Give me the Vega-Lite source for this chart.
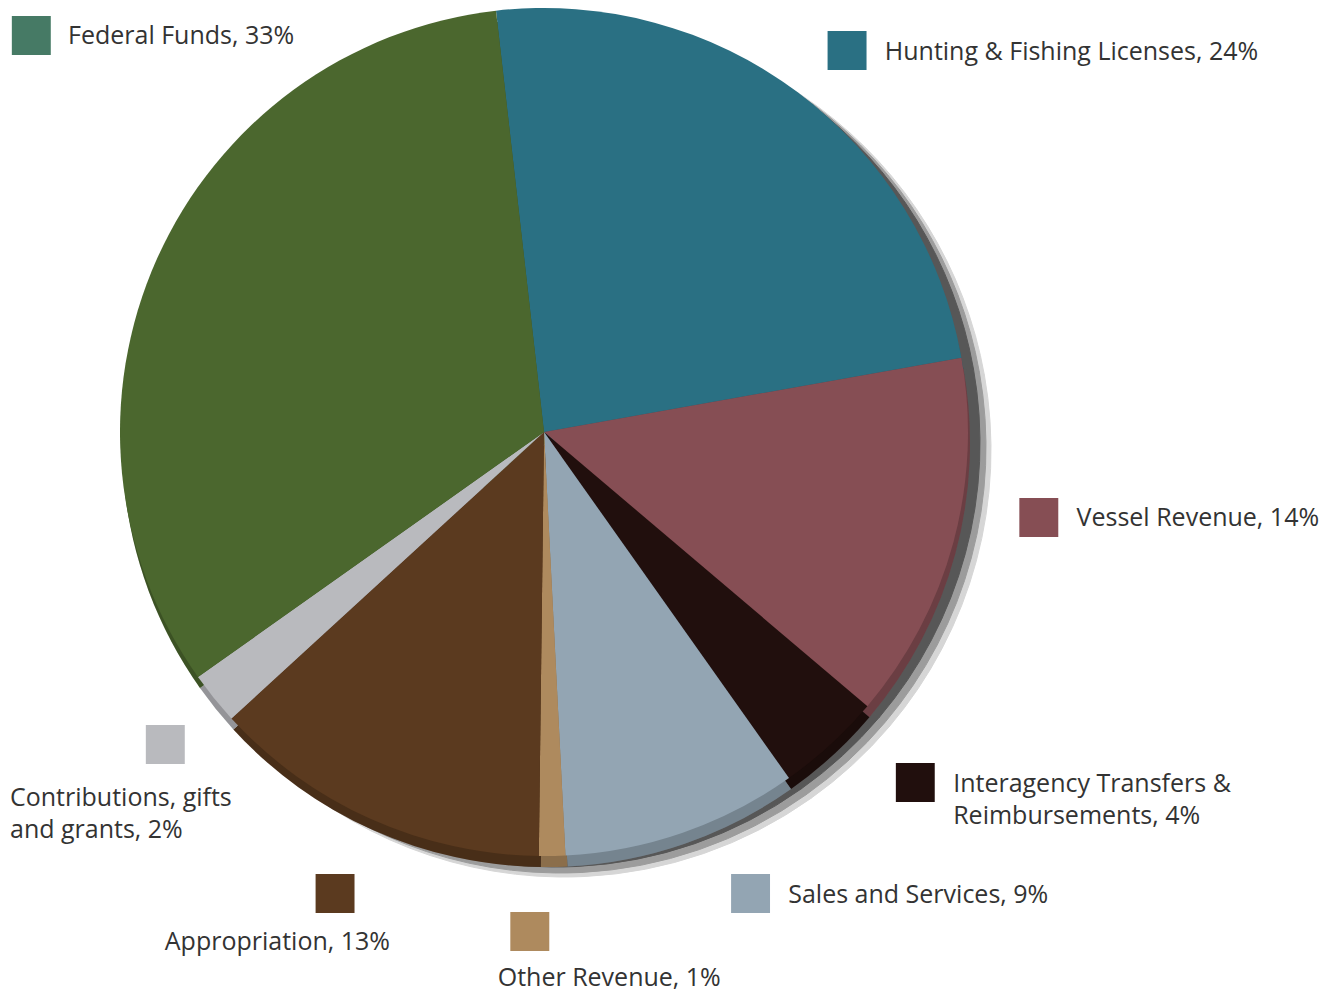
{
  "$schema": "https://vega.github.io/schema/vega-lite/v6.json",
  "width": 1088,
  "height": 864,
  "padding": {"left": 0, "top": 0, "right": 248, "bottom": 130},
  "autosize": {"type": "none"},
  "background": "white",
  "config": {"view": {"stroke": null}, "text": {"font": "Open Sans", "fontSize": 25, "color": "#333333"}},
  "data": {"values": [
    {"category": "Hunting & Fishing Licenses", "value": 24, "idx": 1, "label": "Hunting & Fishing Licenses, 24%"},
    {"category": "Vessel Revenue", "value": 14, "idx": 2, "label": "Vessel Revenue, 14%"},
    {"category": "Interagency Transfers & Reimbursements", "value": 4, "idx": 3, "label": "Interagency Transfers &\nReimbursements, 4%"},
    {"category": "Sales and Services", "value": 9, "idx": 4, "label": "Sales and Services, 9%"},
    {"category": "Other Revenue", "value": 1, "idx": 5, "label": "Other Revenue, 1%"},
    {"category": "Appropriation", "value": 13, "idx": 6, "label": "Appropriation, 13%"},
    {"category": "Contributions, gifts and grants", "value": 2, "idx": 7, "label": "Contributions, gifts\nand grants, 2%"},
    {"category": "Federal Funds", "value": 33, "idx": 8, "label": "Federal Funds, 33%"}
  ]},
  "encoding": {
    "theta": {"field": "value", "type": "quantitative", "stack": true, "scale": {"range": [-0.11345, 6.16974]}},
    "order": {"field": "idx", "type": "quantitative"}
  },
  "layer": [
    {"mark": {"type": "arc", "outerRadius": 427, "x": {"expr": "width/2+20"}, "y": {"expr": "height/2+18"}, "color": "#d6d6d6", "stroke": "#d6d6d6", "strokeWidth": 1}},
    {"mark": {"type": "arc", "outerRadius": 426, "x": {"expr": "width/2+16"}, "y": {"expr": "height/2+15"}, "color": "#9c9c9c", "stroke": "#9c9c9c", "strokeWidth": 1}},
    {"mark": {"type": "arc", "outerRadius": 424, "x": {"expr": "width/2+12"}, "y": {"expr": "height/2+11"}, "color": "#575757", "stroke": "#575757", "strokeWidth": 1}},
    {"mark": {"type": "arc", "outerRadius": 424, "x": {"expr": "width/2+2"}, "y": {"expr": "height/2+11"}},
     "encoding": {"color": {"field": "category", "type": "nominal", "legend": null,
       "scale": {"domain": ["Hunting & Fishing Licenses", "Vessel Revenue", "Interagency Transfers & Reimbursements", "Sales and Services", "Other Revenue", "Appropriation", "Contributions, gifts and grants", "Federal Funds"],
                 "range": ["#2A7083", "#864E54", "#210F0D", "#93A5B3", "#AE8A5E", "#5B3A1F", "#B9BABE", "#4B672E"]}}}},
    {"mark": {"type": "arc", "outerRadius": 424, "x": {"expr": "width/2+2"}, "y": {"expr": "height/2+11"}, "color": "black", "opacity": 0.2}},
    {"mark": {"type": "arc", "outerRadius": 424},
     "encoding": {"color": {"field": "category", "type": "nominal", "legend": null}}},

    {"mark": {"type": "text", "radius": 505, "font": "DejaVu Sans", "fontSize": 51, "align": "center", "baseline": "middle", "dx": 1, "dy": 22},
     "encoding": {"text": {"condition": {"test": "datum.idx === 1", "value": "■"}, "value": ""}, "color": {"field": "category", "type": "nominal", "legend": null}}},
    {"mark": {"type": "text", "radius": 505, "font": "DejaVu Sans", "fontSize": 51, "align": "center", "baseline": "middle", "dx": 7, "dy": -48},
     "encoding": {"text": {"condition": {"test": "datum.idx === 2", "value": "■"}, "value": ""}, "color": {"field": "category", "type": "nominal", "legend": null}}},
    {"mark": {"type": "text", "radius": 505, "font": "DejaVu Sans", "fontSize": 51, "align": "center", "baseline": "middle", "dx": 30, "dy": -23},
     "encoding": {"text": {"condition": {"test": "datum.idx === 3", "value": "■"}, "value": ""}, "color": {"field": "category", "type": "nominal", "legend": null}}},
    {"mark": {"type": "text", "radius": 505, "font": "DejaVu Sans", "fontSize": 51, "align": "center", "baseline": "middle", "dx": 41, "dy": -17},
     "encoding": {"text": {"condition": {"test": "datum.idx === 4", "value": "■"}, "value": ""}, "color": {"field": "category", "type": "nominal", "legend": null}}},
    {"mark": {"type": "text", "radius": 505, "font": "DejaVu Sans", "fontSize": 51, "align": "center", "baseline": "middle", "dx": -24, "dy": -7},
     "encoding": {"text": {"condition": {"test": "datum.idx === 5", "value": "■"}, "value": ""}, "color": {"field": "category", "type": "nominal", "legend": null}}},
    {"mark": {"type": "text", "radius": 505, "font": "DejaVu Sans", "fontSize": 51, "align": "center", "baseline": "middle", "dx": -3, "dy": -1},
     "encoding": {"text": {"condition": {"test": "datum.idx === 6", "value": "■"}, "value": ""}, "color": {"field": "category", "type": "nominal", "legend": null}}},
    {"mark": {"type": "text", "radius": 505, "font": "DejaVu Sans", "fontSize": 51, "align": "center", "baseline": "middle", "dx": 14, "dy": -6},
     "encoding": {"text": {"condition": {"test": "datum.idx === 7", "value": "■"}, "value": ""}, "color": {"field": "category", "type": "nominal", "legend": null}}},
    {"mark": {"type": "text", "radius": 505, "font": "DejaVu Sans", "fontSize": 51, "align": "center", "baseline": "middle", "dx": -52, "dy": -192, "color": "#467A65"},
     "encoding": {"text": {"condition": {"test": "datum.idx === 8", "value": "■"}, "value": ""}}},

    {"mark": {"type": "text", "radius": 505, "align": "left", "baseline": "middle", "lineBreak": "\n", "lineHeight": 32, "dx": 39, "dy": 25},
     "encoding": {"text": {"condition": {"test": "datum.idx === 1", "field": "label"}, "value": ""}}},
    {"mark": {"type": "text", "radius": 505, "align": "left", "baseline": "middle", "lineBreak": "\n", "lineHeight": 32, "dx": 45, "dy": -46},
     "encoding": {"text": {"condition": {"test": "datum.idx === 2", "field": "label"}, "value": ""}}},
    {"mark": {"type": "text", "radius": 505, "align": "left", "baseline": "middle", "lineBreak": "\n", "lineHeight": 32, "dx": 68, "dy": -20},
     "encoding": {"text": {"condition": {"test": "datum.idx === 3", "field": "label"}, "value": ""}}},
    {"mark": {"type": "text", "radius": 505, "align": "left", "baseline": "middle", "lineBreak": "\n", "lineHeight": 32, "dx": 79, "dy": -14},
     "encoding": {"text": {"condition": {"test": "datum.idx === 4", "field": "label"}, "value": ""}}},
    {"mark": {"type": "text", "radius": 505, "align": "left", "baseline": "middle", "lineBreak": "\n", "lineHeight": 32, "dx": -56, "dy": 41},
     "encoding": {"text": {"condition": {"test": "datum.idx === 5", "field": "label"}, "value": ""}}},
    {"mark": {"type": "text", "radius": 505, "align": "left", "baseline": "middle", "lineBreak": "\n", "lineHeight": 32, "dx": -173, "dy": 49},
     "encoding": {"text": {"condition": {"test": "datum.idx === 6", "field": "label"}, "value": ""}}},
    {"mark": {"type": "text", "radius": 505, "align": "left", "baseline": "middle", "lineBreak": "\n", "lineHeight": 32, "dx": -141, "dy": 49},
     "encoding": {"text": {"condition": {"test": "datum.idx === 7", "field": "label"}, "value": ""}}},
    {"mark": {"type": "text", "radius": 505, "align": "left", "baseline": "middle", "lineBreak": "\n", "lineHeight": 32, "dx": -15, "dy": -190},
     "encoding": {"text": {"condition": {"test": "datum.idx === 8", "field": "label"}, "value": ""}}}
  ]
}
